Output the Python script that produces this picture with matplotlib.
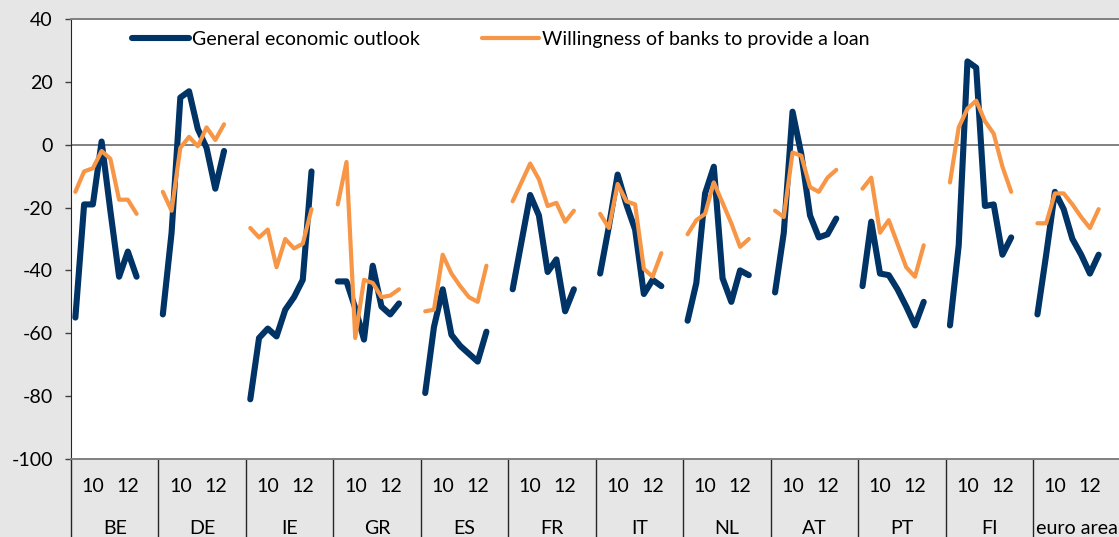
import numpy as np
import matplotlib
matplotlib.use("Agg")
import matplotlib.pyplot as plt
import matplotlib.transforms as mtransforms

# =========================
# DATA
# =========================

countries = ["BE", "DE", "IE", "GR", "ES", "FR", "IT", "NL", "AT", "PT", "FI", "euro area"]

year_labels = ["10", "12"]
year_slots = [2, 6]

# general economic outlook (net %)
be_outlook = [-55, -19, -19, 1, -21, -42, -34, -42]
de_outlook = [-54, -28, 15, 17, 5, -1, -14, -2]
ie_outlook = [-81, -61.5, -58.5, -61, -52.5, -48.5, -43, -8.5]
gr_outlook = [-43.5, -43.5, -52, -62, -38.5, -51.5, -54, -50.5]
es_outlook = [-79, -58, -46, -60.5, -64, -66.5, -69, -59.5]
fr_outlook = [-46, -31, -16, -22.5, -40.5, -36.5, -53, -46]
it_outlook = [-41, -26, -9.5, -19, -27, -47.5, -43, -45]
nl_outlook = [-56, -44, -15.5, -7, -42.5, -50, -40, -41.5]
at_outlook = [-47, -28, 10.5, -3, -22.5, -29.5, -28.5, -23.5]
pt_outlook = [-45, -24.5, -41, -41.5, -46, -51.5, -57.5, -50]
fi_outlook = [-57.5, -32, 26.5, 24.5, -19.5, -19, -35, -29.5]
ea_outlook = [-54, -35, -15, -20.5, -30, -35, -41, -35]

# willingness of banks to provide a loan (net %)
be_banks = [-15, -8.5, -7.5, -2, -4.5, -17.5, -17.5, -22]
de_banks = [-15, -21, -1, 2.5, -0.5, 5.5, 1.5, 6.5]
ie_banks = [-26.5, -29.5, -27, -39, -30, -33, -31.5, -20.5]
gr_banks = [-19, -5.5, -61.5, -43, -44, -48.5, -48, -46]
es_banks = [-53, -52.5, -35, -41, -45, -48.5, -50, -38.5]
fr_banks = [-18, -12, -6, -11, -19.5, -18.5, -24.5, -21]
it_banks = [-22, -26.5, -12.5, -18, -19, -39.5, -42, -34.5]
nl_banks = [-28.5, -24, -22, -12, -18.5, -25, -32.5, -30]
at_banks = [-21, -23, -2.5, -3.5, -13.5, -15, -10.5, -8]
pt_banks = [-14, -10.5, -28, -24, -31.5, -39, -42, -32]
fi_banks = [-12, 5.5, 11.5, 14, 7.5, 3.5, -7, -15]
ea_banks = [-25, -25, -15.5, -15.5, -19, -23, -26.5, -20.5]

outlook = [be_outlook, de_outlook, ie_outlook, gr_outlook, es_outlook, fr_outlook,
           it_outlook, nl_outlook, at_outlook, pt_outlook, fi_outlook, ea_outlook]
banks = [be_banks, de_banks, ie_banks, gr_banks, es_banks, fr_banks,
         it_banks, nl_banks, at_banks, pt_banks, fi_banks, ea_banks]

# =========================
# STYLE
# =========================

plt.rcParams["font.family"] = ["Lato", "DejaVu Sans"]
plt.rcParams["font.size"] = 14.1
plt.rcParams["axes.unicode_minus"] = False

BLUE = "#003366"
ORANGE = "#f79646"
BG = "#e6e6e6"

slots = 10  # categories per country group (8 rounds + 2 blank)

fig = plt.figure(figsize=(11.19, 5.37), dpi=100, facecolor=BG)
ax = fig.add_axes([0.06345, 0.14525, 0.9379, 0.8194])
ax.set_facecolor("white")

# =========================
# LINES
# =========================

for g in range(len(countries)):

    x = g * slots + np.arange(len(outlook[g]))

    ax.plot(
        x, outlook[g],
        color=BLUE, lw=4.4,
        solid_capstyle="round", solid_joinstyle="round",
        zorder=3,
        label="General economic outlook" if g == 0 else None
    )

    ax.plot(
        x, banks[g],
        color=ORANGE, lw=3.0,
        solid_capstyle="round", solid_joinstyle="round",
        zorder=4,
        label="Willingness of banks to provide a loan" if g == 0 else None
    )

ax.axhline(0, color="#808080", lw=1.4, zorder=1)

# =========================
# AXES
# =========================

ax.set_xlim(-0.5, len(countries) * slots - 0.5)
ax.set_ylim(-100, 40)
ax.set_yticks(np.arange(-100, 41, 20))
ax.set_xticks([])

ax.tick_params(axis="y", length=4, width=1, color="#404040", pad=9, labelsize=14.1)

for side in ["top", "bottom"]:
    ax.spines[side].set_color("#808080")
    ax.spines[side].set_linewidth(1.4)
ax.spines["left"].set_color("#262626")
ax.spines["right"].set_visible(False)

# category axis below the plot
trans = mtransforms.blended_transform_factory(ax.transData, ax.transAxes)

for g, name in enumerate(countries):

    for lab, s in zip(year_labels, year_slots):
        ax.text(g * slots + s, -0.063, lab,
                transform=trans, ha="center", va="center", fontsize=14.1)

    ax.text(g * slots + (slots - 1) / 2, -0.157, name,
            transform=trans, ha="center", va="center", fontsize=14.1)

    ax.plot([g * slots - 0.5, g * slots - 0.5], [0, -0.18],
            transform=trans, color="#262626", lw=1, clip_on=False)

# =========================
# LEGEND
# =========================

ax.legend(
    loc="upper left",
    bbox_to_anchor=(0.058, 0.972),
    ncol=2,
    frameon=False,
    borderpad=0,
    borderaxespad=0,
    handlelength=2.9,
    handletextpad=0.15,
    columnspacing=3.2,
    fontsize=14.1
)

fig.savefig("out.png", dpi=100, facecolor=BG)
